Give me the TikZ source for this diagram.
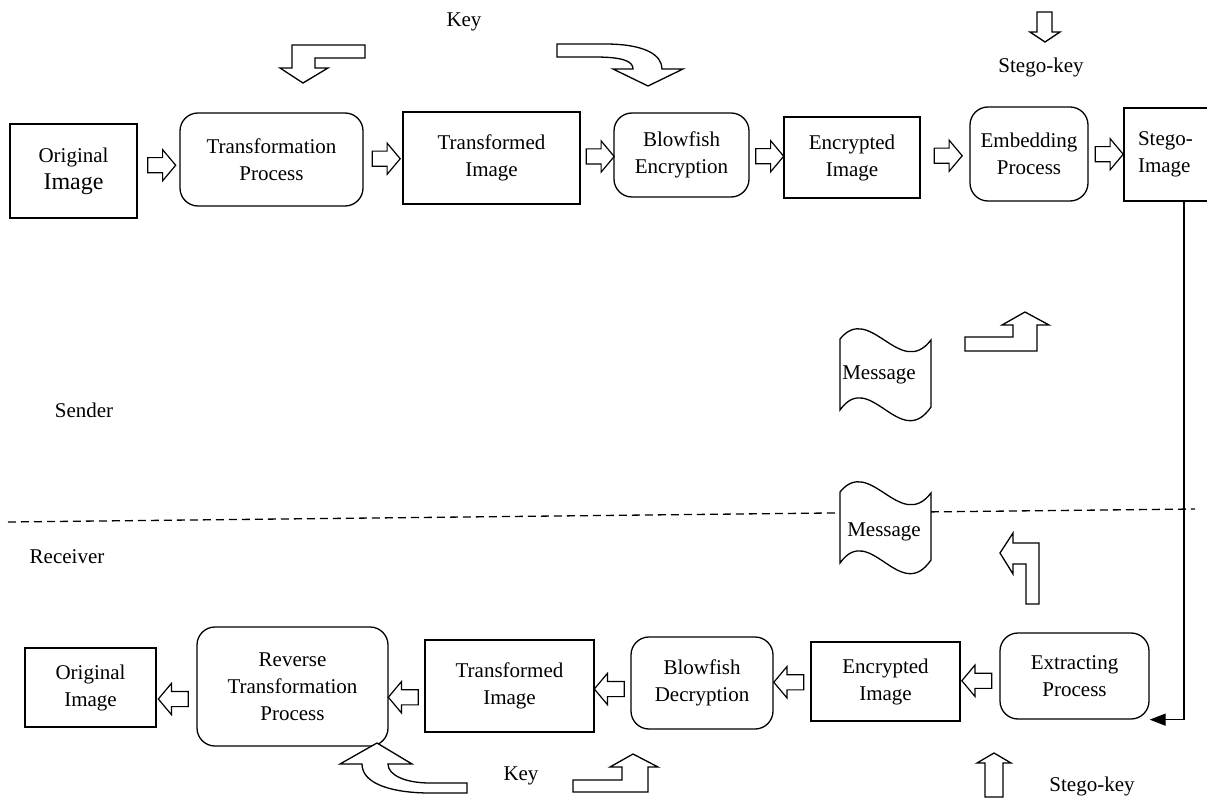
\documentclass[tikz,border=0pt]{standalone}
\usepackage{fontspec}
\setmainfont{Liberation Serif}
\usetikzlibrary{shapes.arrows,arrows.meta,calc}
\begin{document}
\begin{tikzpicture}[x=1pt,y=-1pt,
  every node/.style={font=\fontsize{21}{27}\selectfont},
  box/.style={draw, line width=1.3pt, align=center, inner sep=2pt},
  rbox/.style={box, rounded corners=18pt},
  blockarrow/.style={draw, line width=1.2pt, single arrow, minimum height=28pt, inner sep=7pt,
     single arrow head extend=8pt, single arrow tip angle=100, single arrow head indent=0pt},
  leftarrow/.style={blockarrow, shape border rotate=180, minimum height=30pt},
  shapeline/.style={draw, line width=1.3pt, line join=miter},
  conn/.style={draw, line width=1.3pt}
]
\useasboundingbox (0,0) rectangle (1207,799);

% ---------- sender row ----------
\node[box, minimum width=127pt, minimum height=94pt] (oi1) at (73.5,171) {Original\\{\fontsize{24}{29}\selectfont Image}};
\node[rbox, minimum width=183pt, minimum height=93pt] (tp) at (271.5,159.5) {Transformation\\Process};
\node[box, minimum width=177pt, minimum height=92pt] (ti1) at (491.5,158) {Transformed\\Image};
\node[rbox, minimum width=135pt, minimum height=84pt] (be) at (681.5,155) {Blowfish\\Encryption};
\node[box, minimum width=136pt, minimum height=81pt] (ei1) at (852,157.5) {Encrypted\\Image};
\node[rbox, minimum width=118pt, minimum height=94pt] (ep) at (1029,154) {Embedding\\Process};
\node[box, align=left, text width=70pt, inner xsep=14pt, minimum height=93pt] (si) at (1173,154.5) {Stego-\\Image};

\node[blockarrow] (a1) at ($(oi1.east)!0.5!(tp.west)$) {};
\node[blockarrow] (a2) at ($(tp.east)!0.5!(ti1.west)$) {};
\node[blockarrow] (a3) at ($(ti1.east)!0.5!(be.west)$) {};
\node[blockarrow] (a4) at ($(be.east)!0.5!(ei1.west)$) {};
\node[blockarrow] (a5) at ($(ei1.east)!0.5!(ep.west)$) {};
\node[blockarrow] (a6) at ($(ep.east)!0.5!(si.west)$) {};

% Key (top)
\node (key1) at (464,22) {Key};
\draw[shapeline] (365,45) -- (292,45) -- (292,68) -- (280,68) -- (303,83) -- (328,68) -- (315,68) -- (315,58) -- (365,58) -- cycle;
\draw[shapeline] (557,44) -- (605,44) .. controls (645,44) and (662,55) .. (662,69) -- (683,69) -- (648,86) -- (613,69) -- (633,69) .. controls (633,62) and (625,57) .. (595,57) -- (557,57) -- cycle;

% Stego-key (top)
\node (sk1) at (1041,67) {Stego-key};
\draw[shapeline] (1037,12) -- (1052,12) -- (1052,32) -- (1060,32) -- (1045,42) -- (1030,32) -- (1037,32) -- cycle;

% Message (sender)
\draw[shapeline, fill=white] (840,339) .. controls (870,302) and (900,380) .. (931,340) -- (931,407) .. controls (900,452) and (870,368) .. (840,410) -- cycle;
\node (msg1) at (879,375) {Message};
\draw[shapeline] (965,337) -- (1013,337) -- (1013,325) -- (1002,325) -- (1025,312) -- (1049,325) -- (1037,325) -- (1037,351) -- (965,351) -- cycle;

\node (sender) at (84,410) {Sender};

% ---------- divider ----------
\draw[line width=1.3pt, dash pattern=on 8pt off 5pt] (8,522) -- (1195,509);
\node (receiver) at (67,557) {Receiver};

% Message (receiver)
\draw[shapeline, fill=white] (840,492) .. controls (870,455) and (900,533) .. (931,493) -- (931,560) .. controls (900,605) and (870,521) .. (840,563) -- cycle;
\node (msg2) at (884,532) {Message};
\draw[shapeline] (1000,553) -- (1013,533) -- (1013,543) -- (1039,543) -- (1039,604) -- (1026,604) -- (1026,564) -- (1013,564) -- (1013,574) -- cycle;

% ---------- receiver row ----------
\node[box, minimum width=131pt, minimum height=79pt] (oi2) at (90.5,687.5) {Original\\Image};
\node[rbox, minimum width=191pt, minimum height=119pt] (rtp) at (292.5,686.5) {Reverse\\Transformation\\Process};
\node[box, minimum width=169pt, minimum height=92pt] (ti2) at (509.5,686) {Transformed\\Image};
\node[rbox, minimum width=142pt, minimum height=92pt] (bd) at (702,683) {Blowfish\\Decryption};
\node[box, minimum width=149pt, minimum height=79pt] (ei2) at (885.5,681.5) {Encrypted\\Image};
\node[rbox, minimum width=149pt, minimum height=86pt] (xp) at (1074.5,676) {Extracting\\Process};

\node[leftarrow, yshift=-12pt] (b1) at ($(oi2.east)!0.5!(rtp.west)$) {};
\node[leftarrow, yshift=-11pt] (b2) at ($(rtp.east)!0.5!(ti2.west)$) {};
\node[leftarrow, yshift=-4.5pt] (b3) at ($(ti2.east)!0.5!(bd.west)$) {};
\node[leftarrow] (b4) at ($(bd.east)!0.5!(ei2.west)$) {};
\node[leftarrow, yshift=-2pt] (b5) at ($(ei2.east)!0.5!(xp.west)$) {};

% connector stego-image -> extracting
\coordinate (drop) at (1184,0);
\draw[conn, -{Triangle[length=16pt,width=12pt]}] (si.south -| drop) |- (xp.south east);

% Key (bottom)
\node (key2) at (521,776) {Key};
\draw[shapeline, fill=white] (362,764) .. controls (362,785) and (395,793) .. (430,793) -- (467,793) -- (467,783) -- (430,783) .. controls (405,783) and (388,775) .. (388,764) -- (412,764) -- (377,743) -- (340,764) -- cycle;
\draw[shapeline] (573,780) -- (622,780) -- (622,767) -- (610,767) -- (633,754) -- (658,767) -- (648,767) -- (648,792) -- (573,792) -- cycle;

% Stego-key (bottom)
\node (sk2) at (1092,786) {Stego-key};
\draw[shapeline] (985,797) -- (985,763) -- (977,763) -- (994,753) -- (1011,763) -- (1003,763) -- (1003,797) -- cycle;
\end{tikzpicture}
\end{document}
